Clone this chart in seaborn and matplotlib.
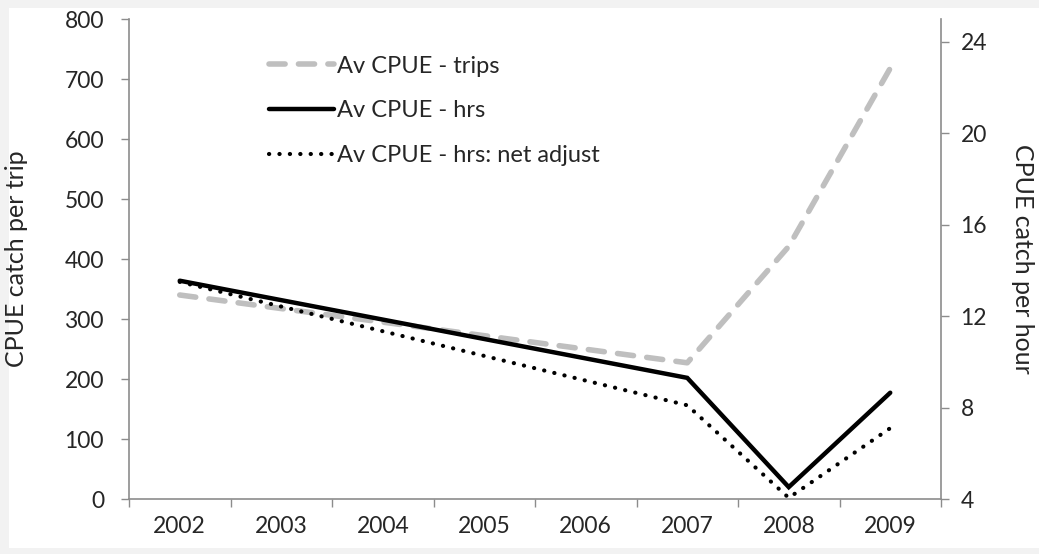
import numpy as np
import pandas as pd
import matplotlib
matplotlib.use("Agg")
import matplotlib.pyplot as plt
from matplotlib.patches import Rectangle
from matplotlib.ticker import FixedLocator, NullFormatter
import seaborn as sns

# ---- data ----
categories = ["2002", "2003", "2004", "2005", "2006", "2007", "2008", "2009"]
data_years = ["2002", "2007", "2008", "2009"]
cpue_trips = [340, 227, 421, 718]          # left axis: catch per trip
cpue_hrs = [13.55, 9.3, 4.52, 8.65]         # right axis: catch per hour
cpue_hrs_net = [13.5, 8.1, 4.05, 7.1]       # right axis: catch per hour, net adjusted
left_ticks = [0, 100, 200, 300, 400, 500, 600, 700, 800]
right_ticks = [4, 8, 12, 16, 20, 24]

sns.set_theme(style="white")
plt.rcParams['font.family'] = ['Lato', 'DejaVu Sans']

text_col = "#262626"
spine_col = "#8C8C8C"

fig = plt.figure(figsize=(10.39, 5.54), dpi=100)
fig.patch.set_facecolor("#F2F2F2")
fig.patches.append(Rectangle((9 / 1039, 6 / 554), 1 - 9 / 1039, 1 - 14 / 554,
                             transform=fig.transFigure, facecolor="white",
                             edgecolor="none", zorder=-10))

ax = fig.add_axes([129 / 1039, 55 / 554, (941 - 129) / 1039, (499 - 19) / 554])
ax.set_facecolor("none")
ax2 = ax.twinx()

df = pd.DataFrame({
    "x": [categories.index(y) for y in data_years],
    "trips": cpue_trips,
    "hrs": cpue_hrs,
    "net": cpue_hrs_net,
})

sns.lineplot(data=df, x="x", y="trips", ax=ax, color="#BFBFBF", lw=4.0,
             linestyle=(0, (2.9, 2.4)), dash_capstyle="round",
             label="Av CPUE - trips", legend=False)
sns.lineplot(data=df, x="x", y="hrs", ax=ax2, color="black", lw=3.2,
             solid_capstyle="round", solid_joinstyle="miter",
             label="Av CPUE - hrs", legend=False)
sns.lineplot(data=df, x="x", y="net", ax=ax2, color="black", lw=3.0,
             linestyle=(0, (0.05, 2.45)), dash_capstyle="round",
             label="Av CPUE - hrs: net adjust", legend=False)

ax.set_xlim(-0.5, len(categories) - 0.5)
ax.set_ylim(0, 800)
ax2.set_ylim(4, 25)

ax.xaxis.set_major_locator(FixedLocator(range(len(categories))))
ax.set_xticklabels(categories)
ax.xaxis.set_minor_locator(FixedLocator(np.arange(-0.5, len(categories), 1.0)))
ax.xaxis.set_minor_formatter(NullFormatter())
ax.tick_params(axis="x", which="major", length=0, pad=12, labelsize=16.5, labelcolor=text_col)
ax.tick_params(axis="x", which="minor", length=6, width=1, color=spine_col, direction="out", bottom=True)

ax.set_yticks(left_ticks)
ax.tick_params(axis="y", length=6, width=1, color=spine_col, direction="out", left=True,
               pad=12, labelsize=16.5, labelcolor=text_col)
ax2.set_yticks(right_ticks)
ax2.tick_params(axis="y", length=6, width=1, color=spine_col, direction="out", right=True,
                pad=8, labelsize=16.5, labelcolor=text_col)

for a in (ax, ax2):
    a.spines["top"].set_visible(False)
    for s in ("left", "right", "bottom"):
        a.spines[s].set_color(spine_col)
        a.spines[s].set_linewidth(1.2)
ax.spines["right"].set_visible(False)
ax2.spines["left"].set_visible(False)
ax2.spines["bottom"].set_visible(False)

ax.set_xlabel("")
ax.set_ylabel("CPUE catch per trip", fontsize=18, color=text_col, labelpad=26)
ax2.set_ylabel("CPUE catch per hour", fontsize=18, color=text_col, rotation=270, labelpad=34)

h1, l1 = ax.get_legend_handles_labels()
h2, l2 = ax2.get_legend_handles_labels()
leg = ax2.legend(h1 + h2, l1 + l2, loc="upper left", bbox_to_anchor=(0.146, 0.968),
                 frameon=False, fontsize=17, handlelength=2.75, handletextpad=0.15,
                 labelspacing=1.0, labelcolor=text_col)

fig.savefig("out.png", dpi=100, facecolor=fig.get_facecolor())
